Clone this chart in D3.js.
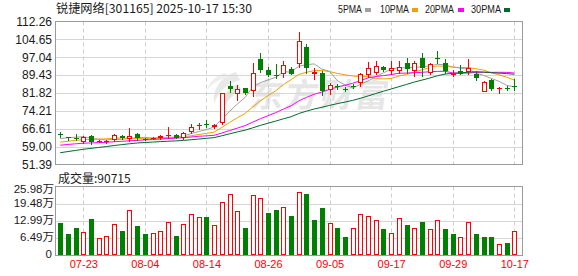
<!DOCTYPE html>
<html><head><meta charset="utf-8">
<script src="https://cdn.jsdelivr.net/npm/d3@7"></script>
<style>html,body{margin:0;padding:0;background:#fff;}svg{display:block;}</style>
</head><body>
<svg id="c" width="578" height="276"></svg>
<script>
// ---------------- data ----------------
const dates = ["07-18","07-21","07-22","07-23","07-24","07-25","07-28","07-29","07-30","07-31",
"08-01","08-04","08-05","08-06","08-07","08-08","08-11","08-12","08-13","08-14",
"08-15","08-18","08-19","08-20","08-21","08-22","08-25","08-26","08-27","08-28",
"08-29","09-01","09-02","09-03","09-04","09-05","09-08","09-09","09-10","09-11",
"09-12","09-15","09-16","09-17","09-18","09-19","09-22","09-23","09-24","09-25",
"09-26","09-29","09-30","10-09","10-10","10-13","10-14","10-15","10-16","10-17"];
const opens = [64.3,62.9,62.5,60.9,63.4,61.0,60.9,61.8,63.4,62.3,
64.5,62.4,62.4,62.6,63.4,64.1,62.6,65.1,67.8,68.6,
67.3,69.1,85.0,81.5,83.8,82.5,96.1,91.5,89.5,90.0,
92.2,94.0,101.5,90.0,90.5,83.0,84.9,83.7,84.8,86.2,
89.3,90.4,93.1,91.0,91.2,94.4,91.1,96.8,90.4,96.9,
94.4,89.6,91.2,90.9,90.1,82.3,87.2,83.6,84.1,84.9];
const highs = [65.1,63.3,64.5,63.4,63.8,61.7,61.7,64.5,63.9,66.8,
64.8,62.7,62.9,63.9,67.4,64.4,65.1,68.7,69.1,70.3,
68.5,81.9,86.9,85.2,84.0,94.7,98.7,93.0,94.0,95.4,
92.8,107.8,102.5,92.5,91.0,86.2,85.7,84.2,85.5,90.4,
95.0,95.6,93.5,95.4,95.4,96.8,95.4,98.9,94.7,99.5,
96.4,91.8,93.9,96.1,91.1,86.9,87.6,84.3,85.0,87.6];
const lows = [63.0,62.0,61.8,60.7,60.3,60.8,60.6,61.3,62.1,61.5,
61.8,61.9,62.1,62.3,62.7,62.5,62.4,64.6,66.3,67.4,
67.0,68.8,82.3,79.0,81.2,80.5,90.6,89.0,88.2,88.6,
89.8,92.8,90.4,87.7,81.0,81.5,83.5,82.5,83.8,84.7,
88.5,89.7,91.0,89.8,90.4,90.4,89.0,89.0,89.7,94.7,
90.4,89.0,89.7,90.0,87.2,82.2,82.9,81.9,83.2,83.0];
const closes = [63.8,62.6,62.3,63.2,60.9,61.3,61.4,64.0,62.6,63.4,
62.6,62.1,62.6,63.7,64.0,62.7,64.9,67.4,68.2,68.0,
68.3,81.9,83.5,83.7,82.0,90.4,91.5,89.4,89.2,93.7,
90.0,104.0,92.6,90.7,82.6,85.4,84.2,83.3,84.5,90.0,
92.5,93.5,91.5,92.5,93.0,92.1,94.7,92.5,94.3,96.6,
91.1,89.9,90.1,92.3,88.0,86.4,83.4,83.9,83.8,84.6];
// closes of the 29 sessions before the first visible one (needed for the moving averages)
const priorCloses = [47.6,48.0,48.5,49.0,49.6,50.2,50.8,51.3,51.9,53.1,
55.8,57.2,58.0,58.6,59.1,58.4,58.9,59.3,58.7,59.0,
58.6,59.0,59.4,59.8,60.2,60.6,61.2,62.2,64.2];
// volume in 万 (10k lots)
const volumes = [12.42,8.28,10.17,8.91,13.93,6.65,7.40,11.92,9.04,17.19,
10.92,8.28,8.53,9.29,12.68,7.53,11.92,15.44,14.56,14.31,
11.67,20.21,23.22,16.82,10.17,22.84,21.71,16.19,17.32,18.32,
15.06,23.97,23.34,13.55,17.70,12.30,10.54,7.15,10.42,15.69,
14.94,13.43,9.79,8.53,14.18,11.30,10.42,12.80,10.04,13.43,
9.79,7.91,7.03,12.68,7.91,6.78,6.78,4.39,4.52,9.0715];
const priceTicks = [112.26,104.65,97.04,89.43,81.82,74.21,66.61,59.00,51.39];
const volTicks = [0,6.49,12.99,19.48,25.98];
const dateTicks = ["07-23","08-04","08-14","08-26","09-05","09-17","09-29","10-17"];
const maPeriods = [5,10,20,30];
const maNames = ["5PMA","10PMA","20PMA","30PMA"];
const maColors = ["#a0a0a0","#f0a000","#ff00ff","#006a2e"];
const title = "锐捷网络[301165] 2025-10-17 15:30";
const volTitle = "成交量";

// ---------------- layout ----------------
const L = 55, R = 522;
const pTop = 21.5, pBot = 164.5, vTop = 186.5, vBot = 255.5;
const UP = "#ff0000", DOWN = "#008000";
const svg = d3.select("#c");

const x = d3.scalePoint().domain(dates).range([60.2, 514.3]);
const yP = d3.scaleLinear().domain([d3.min(priceTicks), d3.max(priceTicks)]).range([pBot, pTop]);
const yV = d3.scaleLinear().domain([0, d3.max(volTicks)]).range([vBot, vTop]);
const px = d => Math.round(x(d));
const crisp = v => Math.round(v) + 0.5;

svg.append("rect").attr("width",578).attr("height",276).attr("fill","#fff");

// watermark (logo swoosh + name)
const wm = svg.append("g");
wm.append("path").attr("d","M236,72 C222,76 212,88 214,104 C218,92 226,84 240,80 Z").attr("fill","#e9e9e9");
wm.append("path").attr("d","M238,84 C228,88 222,96 224,108 C228,99 233,94 242,91 Z").attr("fill","#e4e4e4");
wm.append("path").attr("d","M226,73 C218,74 210,80 207,90 C213,83 219,79 229,77 Z").attr("fill","#efefef");
wm.append("text").attr("x",250).attr("y",107)
  .attr("font-family","Noto Sans CJK SC").attr("font-weight","bold")
  .attr("font-size",33).attr("letter-spacing",2).attr("fill","#e6e6e6")
  .attr("transform","translate(14,0) skewX(-8)")
  .text("东方财富");

// grids
const grid = svg.append("g");
priceTicks.slice(1, -1).forEach(t => {
  grid.append("line").attr("x1",L).attr("x2",R).attr("y1",crisp(yP(t))).attr("y2",crisp(yP(t)))
    .attr("stroke","#d6d6d6");
});
volTicks.slice(1, -1).forEach(t => {
  grid.append("line").attr("x1",L).attr("x2",R).attr("y1",crisp(yV(t))).attr("y2",crisp(yV(t)))
    .attr("stroke","#d6d6d6");
});
dateTicks.forEach(d => {
  [[pTop,pBot],[vTop,vBot]].forEach(([a,b]) => {
    grid.append("line").attr("x1",px(d)+0.5).attr("x2",px(d)+0.5).attr("y1",a).attr("y2",b)
      .attr("stroke","#cfcfcf").attr("stroke-dasharray","4,3");
  });
});

// borders
svg.append("rect").attr("x",L+0.5).attr("y",pTop).attr("width",R-L).attr("height",pBot-pTop)
  .attr("fill","none").attr("stroke","#9a9a9a");
svg.append("rect").attr("x",L+0.5).attr("y",vTop).attr("width",R-L).attr("height",vBot-vTop)
  .attr("fill","none").attr("stroke","#9a9a9a");

// moving averages
const allCloses = priorCloses.concat(closes);
const off = priorCloses.length;
maPeriods.forEach((n, k) => {
  const vals = dates.map((d, i) => d3.mean(allCloses.slice(i + off - n + 1, i + off + 1)));
  const line = d3.line().x((v, i) => x(dates[i])).y(v => yP(v));
  svg.append("path").attr("d", line(vals)).attr("fill","none")
    .attr("stroke", maColors[k]).attr("stroke-width", 1);
});

// candles
const cg = svg.append("g");
dates.forEach((d, i) => {
  const o = opens[i], c = closes[i], h = highs[i], l = lows[i];
  const cx = px(d);
  const up = c >= o;
  const col = up ? UP : DOWN;
  const top = Math.round(yP(Math.max(o, c)));
  const bot = Math.round(yP(Math.min(o, c)));
  const yh = Math.round(yP(h)), yl = Math.round(yP(l));
  if (bot - top <= 1) {
    cg.append("line").attr("x1",cx+0.5).attr("x2",cx+0.5).attr("y1",yh).attr("y2",yl+1).attr("stroke",col);
    cg.append("line").attr("x1",cx-2).attr("x2",cx+3).attr("y1",top+0.5).attr("y2",top+0.5).attr("stroke",col);
    return;
  }
  if (up) {
    if (yh < top) cg.append("line").attr("x1",cx+0.5).attr("x2",cx+0.5).attr("y1",yh).attr("y2",top).attr("stroke",col);
    if (yl > bot) cg.append("line").attr("x1",cx+0.5).attr("x2",cx+0.5).attr("y1",bot).attr("y2",yl+1).attr("stroke",col);
    cg.append("rect").attr("x",cx-1.5).attr("y",top+0.5).attr("width",4).attr("height",bot-top-1)
      .attr("fill","#fff").attr("stroke",col);
  } else {
    cg.append("line").attr("x1",cx+0.5).attr("x2",cx+0.5).attr("y1",yh).attr("y2",yl+1).attr("stroke",col);
    cg.append("rect").attr("x",cx-2).attr("y",top).attr("width",5).attr("height",bot-top).attr("fill",col);
  }
});

// volume bars (colour by close vs previous close)
const vg = svg.append("g");
dates.forEach((d, i) => {
  const prev = i === 0 ? priorCloses[priorCloses.length-1] : closes[i-1];
  const up = closes[i] >= prev;
  const cx = px(d);
  const top = Math.round(yV(volumes[i]));
  const base = Math.round(vBot - 0.5);
  if (up) {
    vg.append("rect").attr("x",cx-1.5).attr("y",top+0.5).attr("width",4).attr("height",base-top-1)
      .attr("fill","#fff").attr("stroke",UP);
  } else {
    vg.append("rect").attr("x",cx-2).attr("y",top).attr("width",5).attr("height",base-top).attr("fill",DOWN);
  }
});

// axes
const axP = svg.append("g").attr("transform",`translate(${L},0)`)
  .call(d3.axisLeft(yP).tickValues(priceTicks).tickFormat(d3.format(".2f")).tickSize(0).tickPadding(3));
axP.select(".domain").remove();
axP.selectAll("text").attr("font-family","Liberation Sans, Arial, sans-serif").attr("font-size",12).attr("fill","#1a1a1a");

// label centre offsets (px) relative to each volume tick
const volLabelShift = {0: -2, 6.49: -1.3, 12.99: -1.5, 19.48: -1.0, 25.98: 1.8};
const axV = svg.append("g").attr("transform",`translate(${L},0)`)
  .call(d3.axisLeft(yV).tickValues(volTicks).tickFormat(v => v === 0 ? "0" : v.toFixed(2) + "万").tickSize(0).tickPadding(1));
axV.select(".domain").remove();
axV.selectAll("text").attr("font-family","Liberation Sans, Noto Sans CJK SC, sans-serif").attr("font-size",11.5).attr("fill","#1a1a1a")
  .attr("dy", v => (3.7 + volLabelShift[v]) + "px")
  .attr("x", v => v === 0 ? -3 : -1);

const axX = svg.append("g").attr("transform",`translate(0,${vBot})`)
  .call(d3.axisBottom(x).tickValues(dateTicks).tickSize(0).tickPadding(5));
axX.select(".domain").remove();
axX.selectAll("text").attr("font-family","Liberation Sans, Arial, sans-serif").attr("font-size",11).attr("fill",UP);

// title and legend
svg.append("text").attr("x",56).attr("y",13).attr("font-family","Noto Sans CJK SC")
  .attr("font-size",12).attr("fill","#1a1a1a").attr("textLength",196).attr("lengthAdjust","spacingAndGlyphs")
  .text(title);
const legX = [338, 380, 425, 471], legW = [24, 29, 29, 30], sqX = [365, 412, 458, 504];
maNames.forEach((n, k) => {
  svg.append("text").attr("x",legX[k]).attr("y",13).attr("font-family","Liberation Sans, Arial, sans-serif")
    .attr("font-size",11.5).attr("fill","#1a1a1a").attr("textLength",legW[k]).attr("lengthAdjust","spacingAndGlyphs")
    .text(n);
  svg.append("rect").attr("x",sqX[k]).attr("y",8).attr("width",6).attr("height",4).attr("fill",maColors[k]);
});
svg.append("text").attr("x",58).attr("y",182.5).attr("font-family","Noto Sans CJK SC")
  .attr("font-size",12).attr("fill","#1a1a1a")
  .text(volTitle + ":" + Math.round(volumes[volumes.length-1]*10000));
</script>
</body></html>
